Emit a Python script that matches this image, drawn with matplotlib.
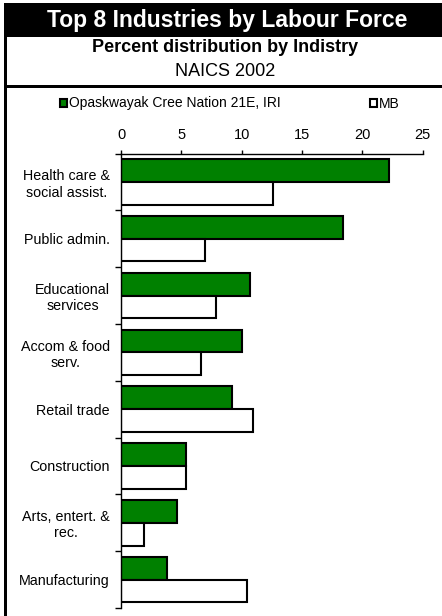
import matplotlib
matplotlib.use("Agg")
import matplotlib.pyplot as plt
from matplotlib.patches import Rectangle, Patch
import numpy as np

plt.rcParams['font.family'] = ['Liberation Sans', 'DejaVu Sans']

categories = ["Health care &\nsocial assist.", "Public admin.", "Educational\nservices",
              "Accom & food\nserv.", "Retail trade", "Construction",
              "Arts, entert. &\nrec.", "Manufacturing"]
opaskwayak = [22.2, 18.4, 10.7, 10.0, 9.2, 5.4, 4.6, 3.8]
mb = [12.6, 7.0, 7.9, 6.6, 10.9, 5.4, 1.9, 10.4]
series_names = ["Opaskwayak Cree Nation 21E, IRI", "MB"]
xticks = [0, 5, 10, 15, 20, 25]

W, H = 442, 616
fig = plt.figure(figsize=(W / 100, H / 100), dpi=100)

# frame elements
fig.patches.append(Rectangle((4 / W, 1 - 37 / H), 1 - 4 / W, 34 / H, transform=fig.transFigure,
                             facecolor='black', edgecolor='none'))
fig.patches.append(Rectangle((4 / W, 0), 3 / W, 1 - 37 / H, transform=fig.transFigure,
                             facecolor='black', edgecolor='none'))
fig.patches.append(Rectangle((4 / W, 1 - 88 / H), 1 - 4 / W, 3 / H, transform=fig.transFigure,
                             facecolor='black', edgecolor='none'))

fig.text(0.5 + 6 / W, 1 - 20.5 / H, "Top 8 Industries by Labour Force", color='white',
         fontsize=16.5, fontweight='bold', ha='center', va='center')
fig.text(0.5 + 4 / W, 1 - 47 / H, "Percent distribution by Indistry", color='black',
         fontsize=13, fontweight='bold', ha='center', va='center')
fig.text(0.5 + 4 / W, 1 - 71 / H, "NAICS 2002", color='black',
         fontsize=13, ha='center', va='center')

ax = fig.add_axes([121 / W, 1 - 608 / H, (422.7 - 121) / W, (608 - 153.5) / H])
y = np.arange(len(categories))
h = 0.4
ax.barh(y - h / 2, opaskwayak, height=h, color='#008000', edgecolor='black', linewidth=1.5,
        label=series_names[0])
ax.barh(y + h / 2, mb, height=h, color='white', edgecolor='black', linewidth=1.5,
        label=series_names[1])

ax.set_xlim(0, 25)
ax.set_ylim(len(categories) - 0.5, -0.5)
ax.xaxis.tick_top()
ax.set_xticks(xticks)
ax.set_xticklabels([str(t) for t in xticks], fontsize=10.5)
ax.tick_params(axis='x', direction='out', length=3, pad=5.5, width=1)

ax.set_yticks(np.arange(-0.5, len(categories) + 0.5, 1))
ax.set_yticklabels([])
ax.set_yticks(y, minor=True)
ax.set_yticklabels(categories, minor=True, fontsize=10.3, multialignment='center')
ax.tick_params(axis='y', which='major', direction='out', length=4, width=1)
ax.tick_params(axis='y', which='minor', length=0, pad=8)

for s in ['right', 'bottom']:
    ax.spines[s].set_visible(False)
for s in ['top', 'left']:
    ax.spines[s].set_linewidth(1)

# legend
fig.legend(handles=[Patch(facecolor='#008000', edgecolor='black', linewidth=1.5),
                    Patch(facecolor='white', edgecolor='black', linewidth=1.5)],
           labels=series_names, loc='center left', bbox_to_anchor=(60 / W, 1 - 103.5 / H),
           ncol=2, frameon=False, fontsize=10, handlelength=0.5, handleheight=0.5,
           handletextpad=0.15, columnspacing=6.4, borderpad=0, borderaxespad=0)

fig.savefig("out.png", dpi=100)
